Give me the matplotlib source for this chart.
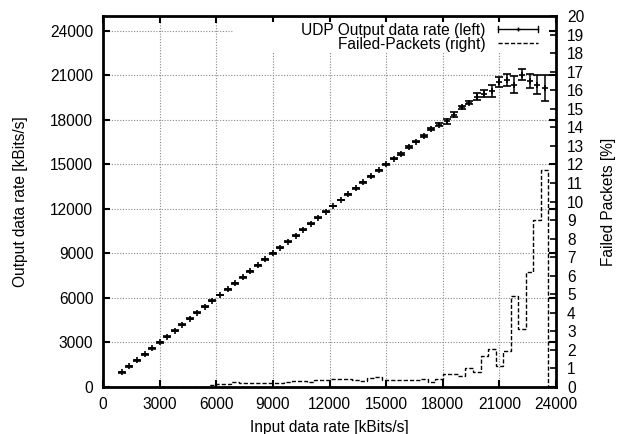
import numpy as np
import matplotlib
matplotlib.use('Agg')
import matplotlib.pyplot as plt
from matplotlib.lines import Line2D
from matplotlib.patches import Rectangle
from matplotlib.legend_handler import HandlerBase
from matplotlib.container import ErrorbarContainer

plt.rcParams['font.family'] = ['Liberation Sans', 'DejaVu Sans']
plt.rcParams['font.size'] = 11.2

input_rate = [1000, 1400, 1800, 2200, 2600, 3000, 3400, 3800, 4200, 4600,
              5000, 5400, 5800, 6200, 6600, 7000, 7400, 7800, 8200, 8600,
              9000, 9400, 9800, 10200, 10600, 11000, 11400, 11800, 12200, 12600,
              13000, 13400, 13800, 14200, 14600, 15000, 15400, 15800, 16200, 16600,
              17000, 17400, 17800, 18200, 18600, 19000, 19400, 19800, 20200, 20600,
              21000, 21400, 21800, 22200, 22600, 23000, 23400]

output_rate = [1000, 1400, 1800, 2200, 2600, 3000, 3400, 3800, 4200, 4600,
               5000, 5400, 5800, 6200, 6600, 7000, 7400, 7800, 8200, 8600,
               9000, 9400, 9800, 10200, 10600, 11000, 11400, 11800, 12200, 12600,
               13000, 13400, 13800, 14200, 14600, 15000, 15380, 15700, 16170, 16520,
               16910, 17380, 17660, 17910, 18360, 18850, 19160, 19560, 19770, 19930,
               20550, 20690, 20370, 21040, 20640, 20370, 20150]

output_err = [30, 30, 30, 30, 30, 30, 30, 30, 30, 30,
              30, 30, 30, 30, 30, 30, 30, 30, 30, 30,
              30, 30, 30, 30, 30, 30, 30, 30, 30, 30,
              30, 30, 30, 30, 30, 30, 40, 40, 40, 40,
              50, 60, 100, 170, 180, 90, 100, 220, 250, 410,
              310, 380, 590, 370, 460, 625, 890]

failed_pct = [0, 0, 0, 0, 0, 0, 0, 0, 0, 0,
              0, 0, 0.10, 0.15, 0.15, 0.29, 0.20, 0.20, 0.20, 0.22,
              0.22, 0.20, 0.25, 0.34, 0.34, 0.29, 0.36, 0.36, 0.41, 0.43,
              0.45, 0.38, 0.34, 0.48, 0.52, 0.38, 0.38, 0.38, 0.38, 0.38,
              0.43, 0.25, 0.43, 0.68, 0.68, 0.59, 1.00, 0.83, 1.67, 2.03,
              1.13, 1.96, 4.90, 3.10, 6.20, 9.00, 11.70]

x_ticks = [0, 3000, 6000, 9000, 12000, 15000, 18000, 21000, 24000]
y_ticks = [0, 3000, 6000, 9000, 12000, 15000, 18000, 21000, 24000]
y2_ticks = list(range(0, 21))


class HandlerHErr(HandlerBase):
    def create_artists(self, legend, orig_handle, xdescent, ydescent,
                       width, height, fontsize, trans):
        y = height / 2 - ydescent
        x0 = -xdescent
        x1 = x0 + width
        c = 2.2
        arts = [Line2D([x0, x1], [y, y], color='black', lw=1.0),
                Line2D([x0, x0], [y - c, y + c], color='black', lw=1.0),
                Line2D([x1, x1], [y - c, y + c], color='black', lw=1.0),
                Line2D([(x0 + x1) / 2], [y], marker='+', ms=3.5, mew=1.0,
                       color='black', lw=0)]
        for a in arts:
            a.set_transform(trans)
        return arts


fig = plt.figure(figsize=(6.18, 4.34), dpi=100)
ax = fig.add_axes([103 / 618, 1 - 387 / 434, (556 - 103) / 618, (387 - 16) / 434])
ax2 = ax.twinx()

x = np.array(input_rate, dtype=float)
half = np.diff(x) / 2
edges = np.concatenate([[x[0] - half[0]], x[:-1] + half, [x[-1] + half[-1]]])

eb = ax.errorbar(input_rate, output_rate, yerr=output_err, fmt='+', color='black',
                 ms=5, mew=1.2, elinewidth=1.1, capsize=3.2, capthick=1.1, zorder=3)
ax2.stairs(failed_pct, edges, baseline=0, fill=False, color='black', lw=1.0,
           linestyle=(0, (3, 1.5)))

ax.set_xlim(0, 24000)
ax.set_ylim(0, 25000)
ax2.set_ylim(0, 20)
ax.set_xticks(x_ticks)
ax.set_yticks(y_ticks)
ax2.set_yticks(y2_ticks)

ax.set_axisbelow(True)
ax.grid(True, color='#888888', linestyle=(0, (1, 1.5)), lw=0.8)

# blank area behind the key (gnuplot style)
ax.add_patch(Rectangle((0.287, 0.9003), 0.985 - 0.287, 0.985 - 0.9003,
                       transform=ax.transAxes, facecolor='white',
                       edgecolor='none', zorder=1))

ax.tick_params(direction='in', length=5, width=1.5, top=True, right=True,
               labelright=False, pad=7)
ax2.tick_params(direction='in', length=4, width=1.2, pad=8)

for s in ax.spines.values():
    s.set_linewidth(2.0)
for s in ax2.spines.values():
    s.set_visible(False)

ax.set_xlabel('Input data rate [kBits/s]', labelpad=6)
ax.set_ylabel('Output data rate [kBits/s]', labelpad=16)
ax2.set_ylabel('Failed Packets [%]', labelpad=12)

fp_proxy = Line2D([], [], color='black', lw=1.0, linestyle=(0, (3, 1.5)))
ax2.legend([eb, fp_proxy], ['UDP Output data rate (left)', 'Failed-Packets (right)'],
           loc='upper right', bbox_to_anchor=(0.9707, 0.995), frameon=False,
           markerfirst=False, handler_map={ErrorbarContainer: HandlerHErr()},
           handlelength=2.6, handletextpad=0.8, labelspacing=-0.06,
           borderpad=0.3, borderaxespad=0)

fig.savefig('out.png', dpi=100)
